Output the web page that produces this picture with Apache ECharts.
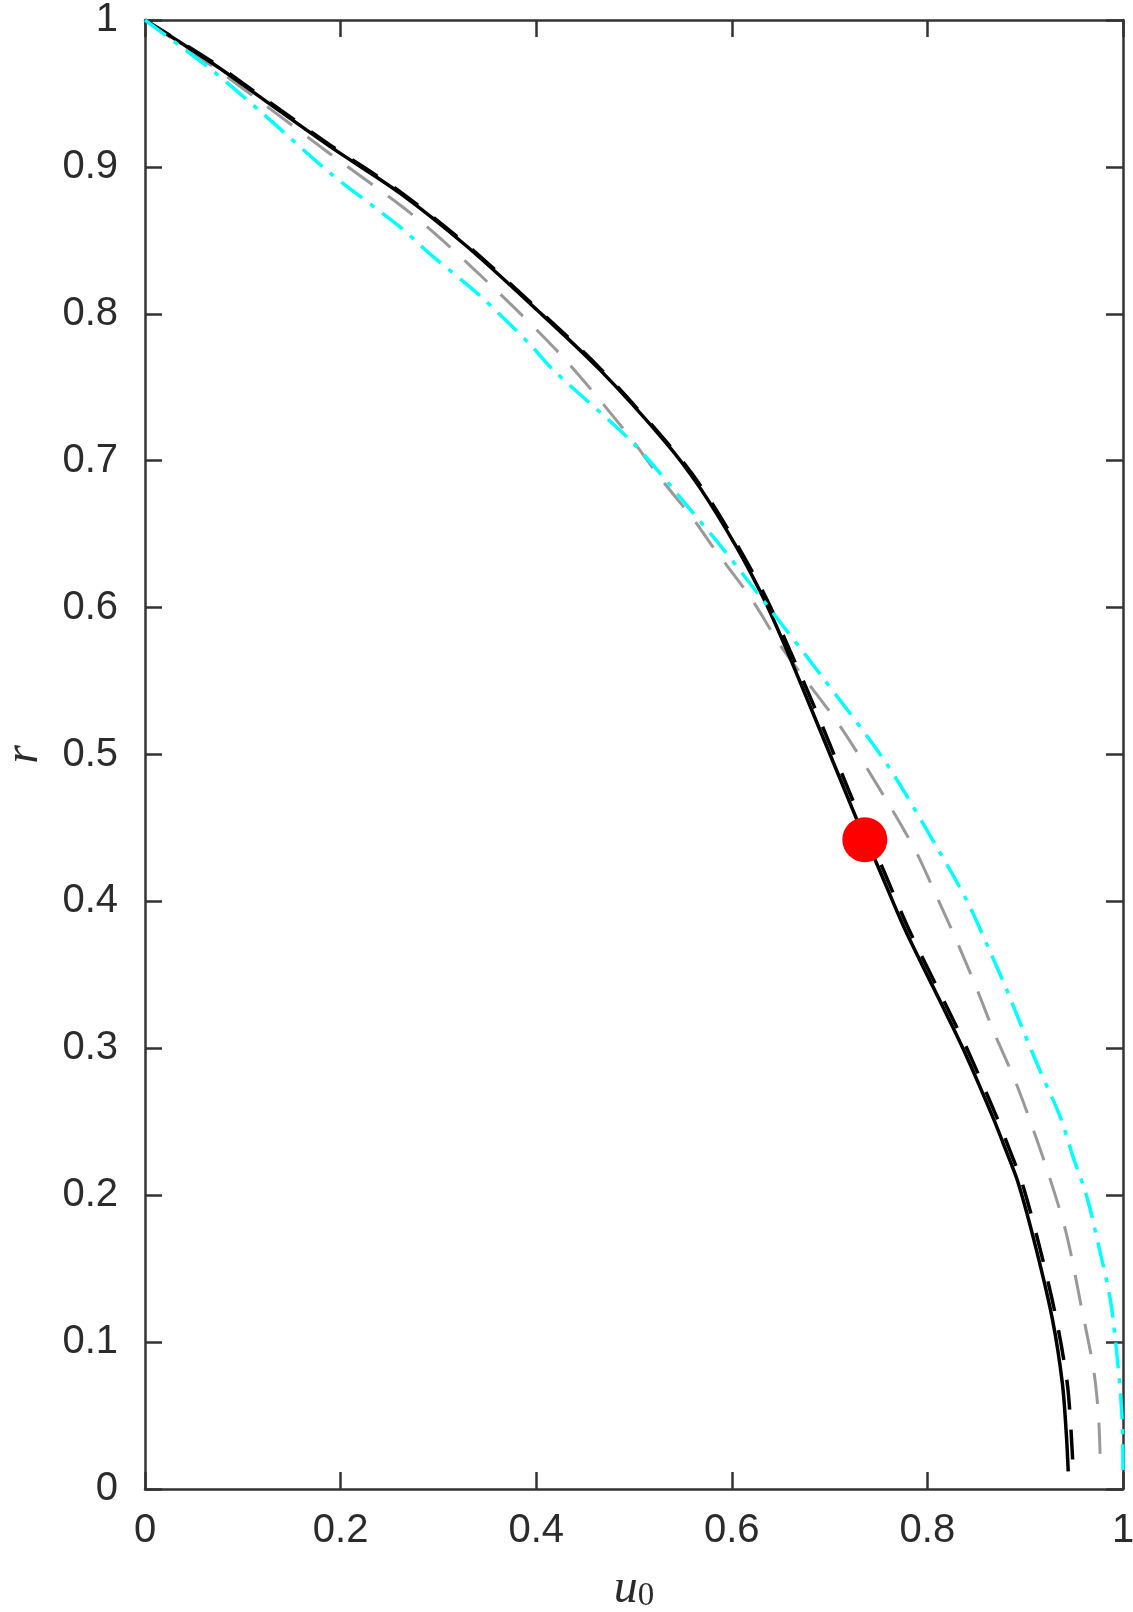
<!DOCTYPE html>
<html>
<head>
<meta charset="utf-8">
<script src="https://cdn.jsdelivr.net/npm/echarts@6/dist/echarts.min.js"></script>
<style>
  html, body { margin: 0; padding: 0; background: #fff; }
  #chart { width: 1133px; height: 1612px; }
</style>
</head>
<body>
<div id="chart"></div>
<script>
// black solid curve
const blackU = [0, 0.070, 0.121, 0.189, 0.261, 0.329, 0.397, 0.465, 0.533, 0.567, 0.605, 0.632, 0.653, 0.680, 0.711, 0.734, 0.748, 0.777, 0.816, 0.837, 0.867, 0.880, 0.893, 0.911, 0.928, 0.938, 0.942, 0.944];
const blackR = [1, 0.970, 0.946, 0.914, 0.882, 0.846, 0.805, 0.762, 0.712, 0.682, 0.641, 0.607, 0.576, 0.533, 0.483, 0.446, 0.426, 0.381, 0.328, 0.299, 0.253, 0.231, 0.208, 0.164, 0.115, 0.072, 0.038, 0.012];

// black dashed curve
const dashU = [0, 0.070, 0.121, 0.189, 0.261, 0.329, 0.397, 0.465, 0.533, 0.568, 0.606, 0.634, 0.656, 0.684, 0.715, 0.738, 0.752, 0.781, 0.820, 0.841, 0.871, 0.884, 0.897, 0.915, 0.932, 0.943, 0.947, 0.949];
const dashR = [1, 0.971, 0.947, 0.915, 0.883, 0.847, 0.806, 0.763, 0.713, 0.683, 0.642, 0.608, 0.576, 0.533, 0.483, 0.446, 0.426, 0.381, 0.328, 0.299, 0.253, 0.231, 0.208, 0.164, 0.115, 0.072, 0.038, 0.013];

// gray dashed curve
const grayU = [0, 0.070, 0.121, 0.189, 0.278, 0.356, 0.428, 0.496, 0.527, 0.561, 0.581, 0.619, 0.653, 0.711, 0.758, 0.789, 0.807, 0.828, 0.849, 0.868, 0.889, 0.907, 0.924, 0.942, 0.958, 0.970, 0.975, 0.977];
const grayR = [1, 0.968, 0.943, 0.909, 0.865, 0.818, 0.770, 0.716, 0.688, 0.660, 0.641, 0.607, 0.571, 0.519, 0.469, 0.433, 0.407, 0.376, 0.343, 0.311, 0.279, 0.247, 0.214, 0.174, 0.122, 0.081, 0.049, 0.013];

// cyan dash-dot curve
const cyanU = [0, 0.070, 0.121, 0.189, 0.261, 0.291, 0.343, 0.394, 0.417, 0.499, 0.561, 0.591, 0.632, 0.690, 0.758, 0.813, 0.840, 0.862, 0.881, 0.898, 0.915, 0.936, 0.949, 0.963, 0.976, 0.987, 0.994, 0.999, 1.0];
const cyanR = [1, 0.965, 0.936, 0.896, 0.859, 0.841, 0.812, 0.779, 0.762, 0.712, 0.664, 0.640, 0.605, 0.555, 0.494, 0.433, 0.401, 0.369, 0.340, 0.312, 0.285, 0.253, 0.226, 0.199, 0.163, 0.129, 0.090, 0.049, 0.013];

// red marker
const dotU = [0.736];
const dotR = [0.442];

const xTicks = [0, 0.2, 0.4, 0.6, 0.8, 1];
const yTicks = [0, 0.1, 0.2, 0.3, 0.4, 0.5, 0.6, 0.7, 0.8, 0.9, 1];

const pairs = (us, rs) => us.map((u, i) => [u, rs[i]]);

const axisColor = "#333333";
const labelFont = "Liberation Sans, Arial, Helvetica, sans-serif";
const mathFont = "Liberation Serif, Times New Roman, serif";

const frameLine = { show: true, onZero: false, lineStyle: { color: axisColor, width: 2.5 } };
const frameTick = { show: true, inside: true, length: 17, lineStyle: { color: axisColor, width: 2.5 } };

const chart = echarts.init(document.getElementById("chart"));
chart.setOption({
  animation: false,
  backgroundColor: "#ffffff",
  grid: { left: 145, right: 10, top: 20, bottom: 123, containLabel: false, outerBoundsMode: "none" },
  xAxis: [
    {
      type: "value",
      position: "bottom",
      min: xTicks[0],
      max: xTicks[xTicks.length - 1],
      interval: xTicks[1] - xTicks[0],
      axisLine: frameLine,
      axisTick: frameTick,
      splitLine: { show: false },
      axisLabel: { fontSize: 40, color: "#2b2b2b", fontFamily: labelFont, margin: 22 },
      name: "{i|u}{s|0}",
      nameLocation: "middle",
      nameGap: 76,
      nameTextStyle: {
        rich: {
          i: { fontFamily: mathFont, fontStyle: "italic", fontSize: 48, lineHeight: 48, verticalAlign: "bottom", color: "#2b2b2b" },
          s: { fontFamily: mathFont, fontSize: 33, lineHeight: 24, verticalAlign: "bottom", color: "#2b2b2b" },
        },
      },
    },
    {
      type: "value",
      position: "top",
      min: xTicks[0],
      max: xTicks[xTicks.length - 1],
      interval: xTicks[1] - xTicks[0],
      axisLine: frameLine,
      axisTick: frameTick,
      axisLabel: { show: false },
      splitLine: { show: false },
    },
  ],
  yAxis: [
    {
      type: "value",
      position: "left",
      min: yTicks[0],
      max: yTicks[yTicks.length - 1],
      interval: 0.1,
      axisLine: frameLine,
      axisTick: frameTick,
      splitLine: { show: false },
      axisLabel: { fontSize: 40, color: "#2b2b2b", fontFamily: labelFont, margin: 27 },
      name: "r",
      nameLocation: "middle",
      nameRotate: 90,
      nameGap: 97,
      nameTextStyle: { fontFamily: mathFont, fontStyle: "italic", fontSize: 48, color: "#2b2b2b" },
    },
    {
      type: "value",
      position: "right",
      min: yTicks[0],
      max: yTicks[yTicks.length - 1],
      interval: 0.1,
      axisLine: frameLine,
      axisTick: frameTick,
      axisLabel: { show: false },
      splitLine: { show: false },
    },
  ],
  series: [
    {
      type: "line",
      data: pairs(blackU, blackR),
      symbol: "none",
      smooth: 0.3,
      lineStyle: { color: "#000000", width: 3.5 },
      z: 5,
    },
    {
      type: "line",
      data: pairs(dashU, dashR),
      symbol: "none",
      smooth: 0.3,
      lineStyle: { color: "#000000", width: 3.5, type: [30, 20] },
      z: 4,
    },
    {
      type: "line",
      data: pairs(grayU, grayR),
      symbol: "none",
      smooth: 0.3,
      lineStyle: { color: "#999999", width: 3, type: [31, 19] },
      z: 3,
    },
    {
      type: "line",
      data: pairs(cyanU, cyanR),
      symbol: "none",
      smooth: 0.3,
      lineStyle: { color: "#00ffff", width: 3.5, type: [26, 10, 5, 10] },
      z: 6,
    },
    {
      type: "scatter",
      data: pairs(dotU, dotR),
      symbol: "circle",
      symbolSize: 45,
      itemStyle: { color: "#ff0000", opacity: 1 },
      z: 10,
    },
  ],
});
</script>
</body>
</html>
